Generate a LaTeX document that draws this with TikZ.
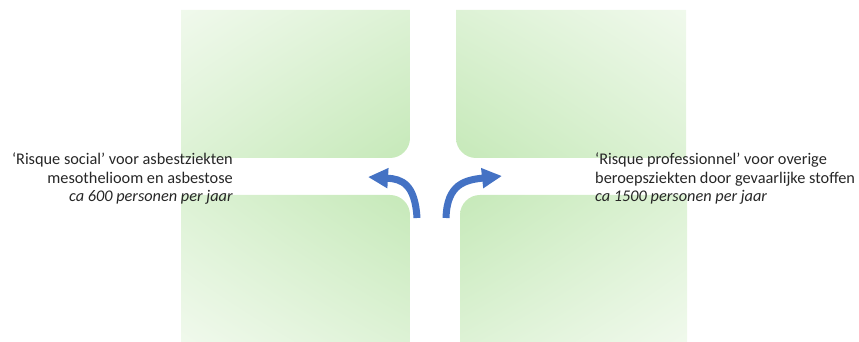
\documentclass[tikz,border=0pt]{standalone}
\usepackage{fontspec}
\setmainfont{Carlito}
\usetikzlibrary{arrows.meta,shadings}
\definecolor{PaleGreen}{HTML}{F0F9EC}
\definecolor{SoftGreen}{HTML}{DDF2D5}
\definecolor{LeafGreen}{HTML}{C6E9B9}
\definecolor{OfficeBlue}{HTML}{4472C4}

\begin{document}
\begin{tikzpicture}[
  x=1pt, y=1pt,
  risktext/.style={
    inner sep=0pt,
    text=black!85,
    font=\fontsize{16.3}{18.6}\selectfont
  },
  bendarrow/.style={-{Triangle[length=20pt,width=19pt]},line width=7pt,color=OfficeBlue}
]
\useasboundingbox (0,0) rectangle (859,342);

% four panels, the rounded corner faces the middle
\shade[upper left=PaleGreen,upper right=SoftGreen,lower left=SoftGreen,lower right=LeafGreen]
  (181,332) -- (410,332) -- (410,204) arc[start angle=0,end angle=-90,radius=20] -- (181,184) -- cycle;
\shade[upper left=SoftGreen,upper right=PaleGreen,lower left=LeafGreen,lower right=SoftGreen]
  (456,332) -- (686,332) -- (686,184) -- (476,184) arc[start angle=-90,end angle=-180,radius=20] -- cycle;
\shade[upper left=SoftGreen,upper right=LeafGreen,lower left=PaleGreen,lower right=SoftGreen]
  (181,0) -- (410,0) -- (410,127) arc[start angle=0,end angle=90,radius=20] -- (181,147) -- cycle;
\shade[upper left=LeafGreen,upper right=SoftGreen,lower left=SoftGreen,lower right=PaleGreen]
  (460,0) -- (687,0) -- (687,147) -- (480,147) arc[start angle=90,end angle=180,radius=20] -- cycle;

\node[risktext,align=right,anchor=base east] (social) at (233,140)
  {‘Risque social’ voor asbestziekten\\mesothelioom en asbestose\\\textit{ca 600 personen per jaar}};
\node[risktext,align=left,anchor=base west] (professional) at (595,140)
  {‘Risque professionnel’ voor overige\\beroepsziekten door gevaarlijke stoffen\\\textit{ca 1500 personen per jaar}};

\coordinate (socialtail) at (417,124);
\coordinate (socialtip) at (368,165);
\coordinate (proftail) at (446,124);
\coordinate (proftip) at (502,166);

\draw[bendarrow] (socialtail) .. controls (415,158) and (402,163) .. (socialtip);
\draw[bendarrow] (proftail) .. controls (447,158) and (465,162) .. (proftip);
\end{tikzpicture}
\end{document}
